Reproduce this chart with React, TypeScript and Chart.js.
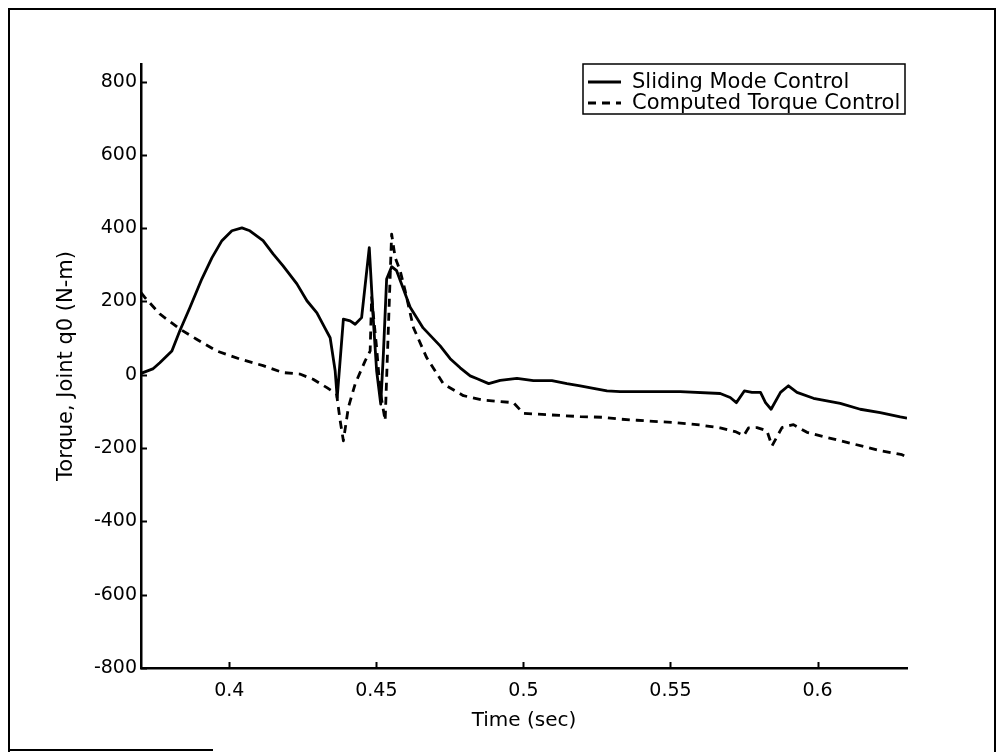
import { useEffect, useRef } from "react";
import { Chart, registerables } from "chart.js";

Chart.register(...registerables);

const seriesLabels = ["Sliding Mode Control", "Computed Torque Control"];

const smcTime = [
  0.37, 0.372, 0.374, 0.3764, 0.3805, 0.3832, 0.3866, 0.3907, 0.3941, 0.3975,
  0.4009, 0.4043, 0.407, 0.4115, 0.4149, 0.4183, 0.423, 0.4264, 0.4298, 0.4325,
  0.4343, 0.436, 0.4367, 0.4388, 0.4411, 0.4428, 0.445, 0.4476, 0.449, 0.4501,
  0.4515, 0.4524, 0.4535, 0.4552, 0.4569, 0.4615, 0.4659, 0.4717, 0.4751, 0.4785,
  0.4819, 0.4843, 0.4882, 0.4921, 0.4978, 0.5034, 0.5097, 0.5148, 0.5193, 0.5238,
  0.5284, 0.5329, 0.542, 0.5533, 0.5669, 0.5703, 0.5724, 0.5751, 0.5777, 0.5806,
  0.5823, 0.5842, 0.5874, 0.5901, 0.593, 0.5986, 0.6077, 0.6145, 0.6213, 0.6281,
  0.6304,
];
const smcTorque = [
  4, 10, 16, 33, 65, 120, 183, 262, 319, 366,
  393, 401, 393, 366, 330, 297, 248, 202, 169, 128,
  101, 11, -62, 152, 147, 138, 156, 347, 147, 11,
  -80, 57, 261, 295, 284, 184, 128, 79, 44, 19,
  -3, -11, -24, -15, -10, -16, -16, -24, -30, -37,
  -44, -46, -46, -46, -51, -62, -76, -44, -48, -48,
  -76, -94, -48, -30, -48, -64, -78, -94, -103, -115,
  -118,
];

const ctcTime = [
  0.37, 0.3713, 0.3764, 0.3832, 0.3889, 0.3957, 0.4036, 0.4115, 0.4183, 0.424,
  0.4285, 0.4332, 0.4365, 0.4377, 0.4388, 0.4405, 0.4428, 0.4462, 0.4479, 0.4484,
  0.4501, 0.4513, 0.453, 0.4541, 0.4552, 0.4564, 0.4581, 0.4598, 0.4626, 0.4671,
  0.4728, 0.4796, 0.4864, 0.4921, 0.4966, 0.5, 0.508, 0.5193, 0.5272, 0.5329,
  0.5386, 0.5442, 0.551, 0.5601, 0.5669, 0.572, 0.5749, 0.5765, 0.5794, 0.5828,
  0.5845, 0.5879, 0.5918, 0.5964, 0.6032, 0.6123, 0.6213, 0.6287, 0.6304,
];
const ctcTorque = [
  224, 211, 166, 125, 97, 65, 43, 25, 6, 2,
  -12, -35, -53, -125, -180, -89, -25, 38, 65, 211,
  74, -44, -125, 129, 384, 320, 284, 229, 129, 47,
  -25, -57, -69, -73, -76, -105, -109, -114, -116, -121,
  -124, -127, -130, -137, -145, -155, -166, -145, -144, -153,
  -194, -144, -136, -157, -171, -189, -207, -218, -224,
];

const xTicks = [0.4, 0.45, 0.5, 0.55, 0.6];
const xTickLabels = ["0.4", "0.45", "0.5", "0.55", "0.6"];
const yTicks = [-800, -600, -400, -200, 0, 200, 400, 600, 800];
const yTickLabels = ["-800", "-600", "-400", "-200", "0", "200", "400", "600", "800"];

const FONT = "'DejaVu Sans', Arial, sans-serif";

const toPoints = (xs: number[], ys: number[]) => xs.map((x, i) => ({ x, y: ys[i] }));

const innerTicks = {
  id: "innerTicks",
  afterDraw(chart: any) {
    const { ctx, chartArea } = chart;
    const xs = chart.scales.x;
    const ys = chart.scales.y;
    ctx.save();
    ctx.strokeStyle = "#000";
    ctx.lineWidth = 2;
    for (const v of yTicks) {
      const py = Math.round(ys.getPixelForValue(v)) + 0.5;
      ctx.beginPath();
      ctx.moveTo(chartArea.left, py);
      ctx.lineTo(chartArea.left + 6, py);
      ctx.stroke();
    }
    for (const v of xTicks) {
      const px = Math.round(xs.getPixelForValue(v)) + 0.5;
      ctx.beginPath();
      ctx.moveTo(px, chartArea.bottom);
      ctx.lineTo(px, chartArea.bottom - 6);
      ctx.stroke();
    }
    ctx.restore();
  },
};

const boxLegend = {
  id: "boxLegend",
  afterDraw(chart: any) {
    const { ctx } = chart;
    const left = 583;
    const top = 64;
    const right = 905;
    const bottom = 114;
    ctx.save();
    ctx.fillStyle = "#fff";
    ctx.fillRect(left, top, right - left, bottom - top);
    ctx.strokeStyle = "#000";
    ctx.lineWidth = 1.5;
    ctx.strokeRect(left, top, right - left, bottom - top);
    ctx.font = `21px ${FONT}`;
    ctx.textBaseline = "middle";
    ctx.textAlign = "left";
    ctx.fillStyle = "#000";
    chart.data.datasets.forEach((ds: any, i: number) => {
      const y = top + 18 + i * 21;
      ctx.beginPath();
      ctx.lineWidth = ds.borderWidth;
      ctx.setLineDash(ds.borderDash || []);
      ctx.moveTo(588, y);
      ctx.lineTo(621, y);
      ctx.stroke();
      ctx.setLineDash([]);
      ctx.fillText(ds.label, 632, y + 1);
    });
    ctx.restore();
  },
};

export default function App() {
  const ref = useRef<HTMLCanvasElement | null>(null);

  useEffect(() => {
    if (!ref.current) return;
    const chart = new Chart(ref.current, {
      type: "line",
      data: {
        datasets: [
          {
            label: seriesLabels[0],
            data: toPoints(smcTime, smcTorque),
            borderColor: "#000",
            borderWidth: 2.8,
            borderDash: [],
            pointRadius: 0,
            tension: 0,
            fill: false,
            borderJoinStyle: "round",
          },
          {
            label: seriesLabels[1],
            data: toPoints(ctcTime, ctcTorque),
            borderColor: "#000",
            borderWidth: 2.8,
            borderDash: [8, 6],
            pointRadius: 0,
            tension: 0,
            fill: false,
            borderJoinStyle: "round",
          },
        ],
      },
      options: {
        animation: false,
        responsive: false,
        maintainAspectRatio: false,
        devicePixelRatio: 1,
        layout: { padding: { left: 0, top: 64, right: 94, bottom: 0 } },
        plugins: {
          legend: { display: false },
          tooltip: { enabled: false },
          title: { display: false },
        },
        scales: {
          x: {
            type: "linear",
            min: 0.37,
            max: 0.6304,
            afterBuildTicks: (s: any) => {
              s.ticks = xTicks.map((v) => ({ value: v }));
            },
            afterFit: (s: any) => {
              s.height = 84;
            },
            ticks: {
              autoSkip: false,
              maxRotation: 0,
              color: "#000",
              padding: 12,
              font: { family: FONT, size: 19 },
              callback: (v: any) => {
                const i = xTicks.indexOf(Number(v));
                return i >= 0 ? xTickLabels[i] : "";
              },
            },
            grid: { display: false, drawTicks: false },
            border: { display: true, color: "#000", width: 2.5 },
            title: {
              display: true,
              text: "Time (sec)",
              color: "#000",
              font: { family: FONT, size: 20 },
              padding: { top: 0, bottom: 19 },
            },
          },
          y: {
            type: "linear",
            min: -800,
            max: 848,
            afterBuildTicks: (s: any) => {
              s.ticks = yTicks.map((v) => ({ value: v }));
            },
            afterFit: (s: any) => {
              s.width = 141;
            },
            ticks: {
              autoSkip: false,
              color: "#000",
              padding: 4,
              font: { family: FONT, size: 19 },
              callback: (v: any) => {
                const i = yTicks.indexOf(Number(v));
                return i >= 0 ? yTickLabels[i] : "";
              },
            },
            grid: { display: false, drawTicks: false },
            border: { display: true, color: "#000", width: 2.5 },
            title: {
              display: true,
              text: "Torque, Joint q0 (N-m)",
              color: "#000",
              font: { family: FONT, size: 21 },
              padding: { top: 54, bottom: 0 },
            },
          },
        },
      },
      plugins: [innerTicks, boxLegend],
    } as any);
    return () => chart.destroy();
  }, []);

  return (
    <div
      style={{
        position: "absolute",
        left: 0,
        top: 0,
        width: 1001,
        height: 752,
        overflow: "hidden",
        background: "#fff",
      }}
    >
      <canvas
        ref={ref}
        width={1001}
        height={752}
        style={{ position: "absolute", left: 0, top: 0 }}
      />
      <div
        style={{
          position: "absolute",
          left: 8,
          top: 8,
          width: 988,
          height: 780,
          boxSizing: "border-box",
          borderTop: "2px solid #000",
          borderLeft: "2px solid #000",
          borderRight: "2px solid #000",
        }}
      />
      <div
        style={{
          position: "absolute",
          left: 8,
          top: 749,
          width: 205,
          height: 2,
          background: "#000",
        }}
      />
    </div>
  );
}
